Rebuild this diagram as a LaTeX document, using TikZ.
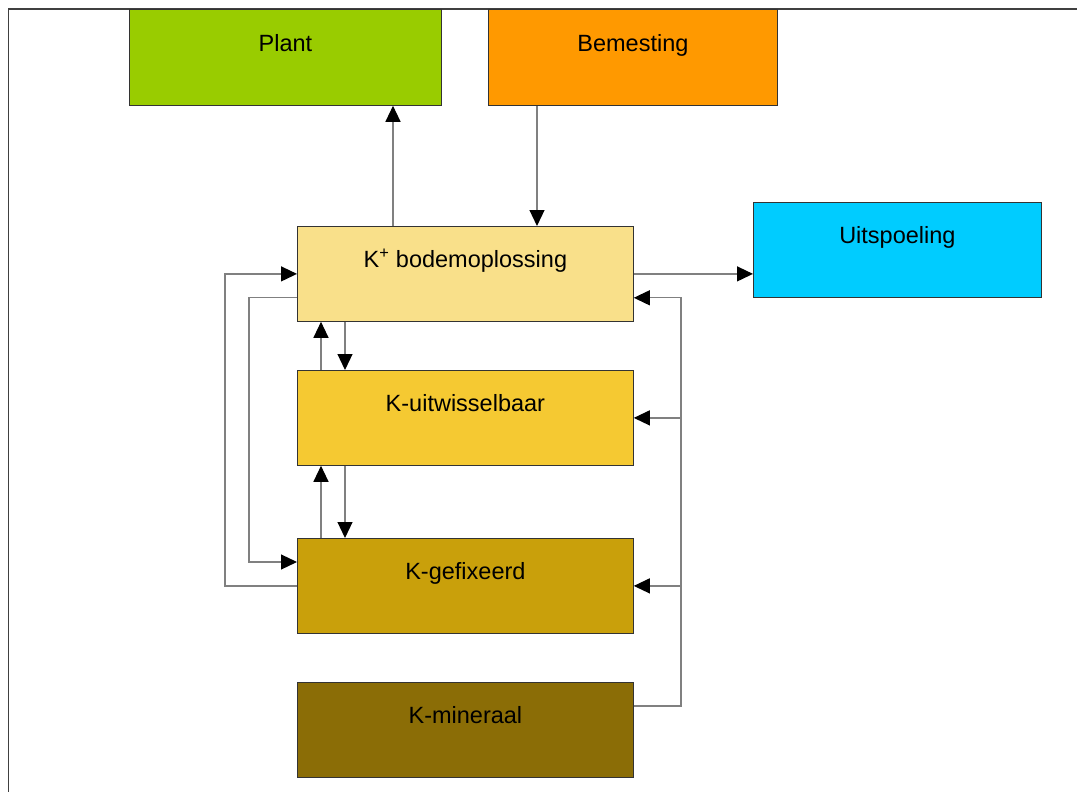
\documentclass[tikz,border=0pt]{standalone}
\usepackage{fontspec}
\setmainfont{Liberation Sans}
\usetikzlibrary{arrows.meta}
\definecolor{cplant}{HTML}{99CC00}
\definecolor{cbem}{HTML}{FF9900}
\definecolor{cuit}{HTML}{00CCFF}
\definecolor{ckplus}{HTML}{F9E08A}
\definecolor{ckuit}{HTML}{F5C932}
\definecolor{ckgef}{HTML}{C9A00B}
\definecolor{ckmin}{HTML}{8B6D06}
\tikzset{
  box/.style={draw=black!80, line width=0.8pt, anchor=north west, inner sep=0pt,
    text height=0pt, text depth=12pt, font=\fontsize{23.5}{26}\selectfont},
  conn/.style={draw=black!50, line width=1.2pt},
  arr/.style={conn, -{Triangle[length=16pt,width=15pt,color=black]}},
}
\begin{document}
\begin{tikzpicture}[x=1pt,y=-1pt]
\useasboundingbox (0,0) rectangle (1077,792);
\draw[black!75, line width=1.6pt] (8.5,792) -- (8.5,9) -- (1077,9);
\node[box, fill=cplant, minimum width=312pt, minimum height=96pt] (plant) at (129,9) {Plant};
\node[box, fill=cbem, minimum width=289pt, minimum height=96pt] (bem) at (488,9) {Bemesting};
\node[box, fill=ckplus, minimum width=336pt, minimum height=95pt] (kplus) at (297,226) {K\textsuperscript{+} bodemoplossing};
\node[box, fill=cuit, minimum width=288pt, minimum height=95pt] (uit) at (753,202) {Uitspoeling};
\node[box, fill=ckuit, minimum width=336pt, minimum height=95pt] (kuit) at (297,370) {K-uitwisselbaar};
\node[box, fill=ckgef, minimum width=336pt, minimum height=95pt] (kgef) at (297,538) {K-gefixeerd};
\node[box, fill=ckmin, minimum width=336pt, minimum height=95pt] (kmin) at (297,682) {K-mineraal};
% Plant and Bemesting
\draw[arr] ([xshift=96pt]kplus.north west) -- ([xshift=96pt]kplus.north west |- plant.south);
\draw[arr] ([xshift=240pt]kplus.north west |- bem.south) -- ([xshift=240pt]kplus.north west);
% Uitspoeling
\draw[arr] (kplus.east) -- (kplus.east -| uit.west);
% vertical pairs
\draw[arr] ([xshift=24pt]kuit.north west) -- ([xshift=24pt]kplus.south west);
\draw[arr] ([xshift=48pt]kplus.south west) -- ([xshift=48pt]kuit.north west);
\draw[arr] ([xshift=24pt]kgef.north west) -- ([xshift=24pt]kuit.south west);
\draw[arr] ([xshift=48pt]kuit.south west) -- ([xshift=48pt]kgef.north west);
% left loops
\coordinate (l1) at (225,0);
\coordinate (l2) at (249,0);
\draw[arr] (kgef.west) -- (kgef.west -| l1) -- (kplus.west -| l1) -- (kplus.west);
\draw[arr] ([yshift=24pt]kplus.south west) -- ([yshift=24pt]kplus.south west -| l2)
  -- ([yshift=-24pt]kgef.north west -| l2) -- ([yshift=-24pt]kgef.north west);
% right bus
\coordinate (r) at (681,0);
\draw[arr] ([yshift=-24pt]kmin.north east) -- ([yshift=-24pt]kmin.north east -| r)
  -- ([yshift=24pt]kplus.south east -| r) -- ([yshift=24pt]kplus.south east);
\draw[arr] (kuit.east -| r) -- (kuit.east);
\draw[arr] (kgef.east -| r) -- (kgef.east);
\end{tikzpicture}
\end{document}
